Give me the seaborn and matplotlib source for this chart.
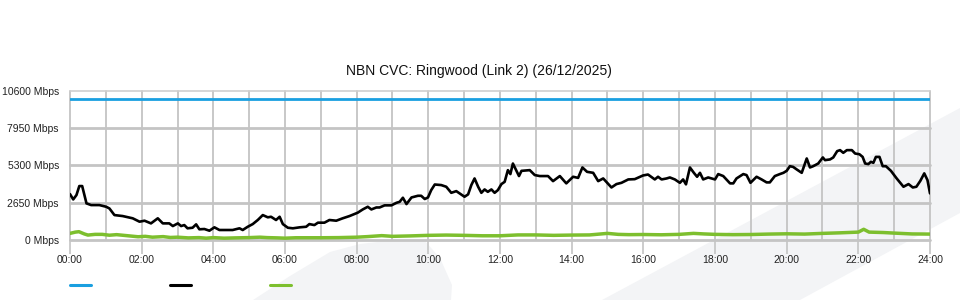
import matplotlib
matplotlib.use("Agg")
import matplotlib.pyplot as plt
import seaborn as sns
import pandas as pd
from matplotlib.patches import Polygon
from matplotlib.lines import Line2D

# ---------------- data ----------------
title = "NBN CVC: Ringwood (Link 2) (26/12/2025)"

used_hours = [0.00, 0.09, 0.18, 0.26, 0.34, 0.46, 0.59, 0.82, 1.01, 1.10, 1.24, 1.47, 1.75, 1.94,
              2.08, 2.26, 2.45, 2.59, 2.77, 2.87, 3.01, 3.10, 3.19, 3.28, 3.42, 3.52, 3.61, 3.75,
              3.89, 4.03, 4.17, 4.54, 4.73, 4.82, 4.96, 5.10, 5.24, 5.38, 5.52, 5.61, 5.75, 5.85,
              5.94, 6.08, 6.22, 6.41, 6.59, 6.68, 6.82, 6.92, 7.10, 7.24, 7.43, 7.61, 7.80, 8.03,
              8.17, 8.31, 8.41, 8.55, 8.64, 8.78, 8.97, 9.11, 9.20, 9.29, 9.39, 9.53, 9.71, 9.80,
              9.90, 9.99, 10.08, 10.18, 10.36, 10.50, 10.64, 10.78, 10.87, 11.01, 11.11, 11.20,
              11.29, 11.39, 11.48, 11.57, 11.66, 11.76, 11.85, 11.94, 12.04, 12.13, 12.22, 12.29,
              12.36, 12.46, 12.53, 12.60, 12.83, 12.97, 13.11, 13.34, 13.48, 13.67, 13.85, 14.04,
              14.18, 14.30, 14.43, 14.60, 14.74, 14.88, 15.11, 15.25, 15.39, 15.58, 15.76, 15.99,
              16.13, 16.32, 16.41, 16.51, 16.65, 16.74, 16.88, 17.02, 17.11, 17.19, 17.30, 17.41,
              17.50, 17.58, 17.67, 17.81, 18.00, 18.09, 18.23, 18.42, 18.51, 18.60, 18.79, 18.88,
              18.99, 19.16, 19.30, 19.44, 19.53, 19.67, 19.81, 19.91, 20.00, 20.09, 20.18, 20.28,
              20.42, 20.56, 20.65, 20.74, 20.88, 21.01, 21.07, 21.21, 21.30, 21.41, 21.49, 21.58,
              21.68, 21.82, 21.91, 22.03, 22.12, 22.19, 22.28, 22.35, 22.42, 22.49, 22.59, 22.68,
              22.77, 22.91, 23.07, 23.26, 23.40, 23.52, 23.62, 23.73, 23.84, 23.93, 24.00]
used_mbps = [3260, 2880, 3190, 3830, 3830, 2600, 2480, 2480, 2360, 2240, 1770, 1700, 1540, 1300,
             1370, 1180, 1540, 1180, 1180, 990, 1180, 990, 1060, 830, 870, 1110, 760, 780,
             660, 900, 710, 710, 830, 710, 940, 1130, 1420, 1770, 1610, 1650, 1420, 1650,
             1130, 870, 830, 900, 940, 1130, 1060, 1230, 1230, 1420, 1370, 1540, 1700, 1940,
             2170, 2360, 2170, 2310, 2310, 2460, 2460, 2640, 2710, 3000, 2550, 3020, 3140, 3140,
             2910, 3020, 3540, 3940, 3900, 3780, 3350, 3470, 3310, 3070, 3240, 3900,
             4370, 3780, 3350, 3590, 3420, 3590, 3350, 3540, 3970, 4130, 4960, 4680,
             5430, 4910, 4540, 4910, 4960, 4610, 4540, 4540, 4180, 4540, 4020, 4490,
             4410, 5150, 4840, 4770, 4180, 4370, 3730, 3970, 4060, 4300, 4320, 4580,
             4650, 4300, 4490, 4300, 4370, 4440, 4300, 4060, 4300, 3950, 5150, 4770,
             4490, 4770, 4300, 4440, 4300, 4680, 4540, 4020, 4020, 4370, 4680, 4610,
             4060, 4490, 4300, 4090, 4090, 4540, 4680, 4770, 4910, 5240, 5190, 5010,
             4770, 5790, 5150, 5240, 5430, 5860, 5670, 5720, 5860, 6310, 6380, 6190,
             6380, 6380, 6140, 6090, 5900, 5430, 5390, 5550, 5480, 5900, 5900, 5240,
             5240, 4910, 4370, 3780, 3970, 3730, 3780, 4200, 4730, 4250, 3310]

up_hours = [0.0, 0.15, 0.25, 0.4, 0.5, 0.7, 0.9, 1.1, 1.3, 1.5, 1.7, 1.9, 2.1, 2.3, 2.6, 2.8,
            3.0, 3.3, 3.6, 3.8, 4.0, 4.3, 4.6, 5.0, 5.3, 5.5, 5.8, 6.0, 6.3, 6.6, 7.0, 7.5,
            8.0, 8.3, 8.7, 9.0, 9.5, 10.0, 10.5, 11.0, 11.5, 12.0, 12.5, 13.0, 13.5, 14.0,
            14.5, 15.0, 15.3, 15.6, 16.0, 16.5, 17.0, 17.4, 17.7, 18.0, 18.5, 19.0, 19.5,
            20.0, 20.5, 21.0, 21.5, 22.0, 22.15, 22.3, 22.7, 23.0, 23.5, 24.0]
up_mbps = [470, 560, 590, 430, 350, 400, 400, 340, 380, 330, 280, 230, 260, 200, 240, 180,
           200, 150, 170, 130, 170, 130, 150, 170, 200, 170, 150, 130, 160, 160, 160, 170,
           200, 240, 310, 260, 290, 330, 350, 330, 300, 300, 360, 360, 330, 350,
           360, 470, 400, 380, 390, 370, 400, 470, 430, 400, 380, 390, 420,
           440, 420, 470, 510, 560, 760, 560, 530, 490, 430, 420]

capacity_hours = [0, 24]
capacity_mbps = [10000, 10000]

y_ticks = [0, 2650, 5300, 7950, 10600]
y_tick_labels = ["0 Mbps", "2650 Mbps", "5300 Mbps", "7950 Mbps", "10600 Mbps"]
x_ticks = list(range(0, 25, 2))
x_tick_labels = ["00:00", "02:00", "04:00", "06:00", "08:00", "10:00", "12:00",
                 "14:00", "16:00", "18:00", "20:00", "22:00", "24:00"]

# ---------------- style ----------------
sns.set_theme(style="white")
plt.rcParams['font.family'] = ['Liberation Sans', 'DejaVu Sans']

BLUE = "#1a9fe0"
BLACK = "#000000"
GREEN = "#7dbf2e"
GRID = "#c4c4c4"
WM = "#f3f4f6"

W, H = 960, 300
fig = plt.figure(figsize=(9.6, 3.0), dpi=100)
fig.patch.set_facecolor("white")

def fp(pts):
    return [(x / W, 1 - y / H) for x, y in pts]

# watermark shapes (background)
band = Polygon(fp([(602, 300), (960, 108), (960, 213), (800, 300)]),
               closed=True, transform=fig.transFigure, facecolor=WM, edgecolor="none", zorder=-5)
leaf = Polygon(fp([(253, 300), (290, 276), (330, 252), (360, 244), (395, 240), (425, 241),
                   (440, 258), (452, 285), (451, 300)]),
               closed=True, transform=fig.transFigure, facecolor=WM, edgecolor="none", zorder=-5)
fig.patches.extend([band, leaf])

ax = fig.add_axes([70 / W, 1 - 240 / H, 860 / W, (240 - 90.7) / H])
ax.set_facecolor("none")

df_used = pd.DataFrame({"hour": used_hours, "mbps": used_mbps})
df_up = pd.DataFrame({"hour": up_hours, "mbps": up_mbps})
df_cap = pd.DataFrame({"hour": capacity_hours, "mbps": capacity_mbps})

sns.lineplot(data=df_cap, x="hour", y="mbps", ax=ax, color=BLUE, lw=2.0, zorder=4)
sns.lineplot(data=df_up, x="hour", y="mbps", ax=ax, color=GREEN, lw=2.5, zorder=3)
sns.lineplot(data=df_used, x="hour", y="mbps", ax=ax, color=BLACK, lw=1.9, zorder=5)

ax.set_xlim(0, 24)
ax.set_ylim(0, 10600)
ax.set_xlabel("")
ax.set_ylabel("")

ax.set_xticks(x_ticks)
ax.set_xticklabels(x_tick_labels)
ax.set_xticks(list(range(25)), minor=True)
ax.set_yticks(y_ticks)
ax.set_yticklabels(y_tick_labels)

for s in ax.spines.values():
    s.set_visible(False)

ax.grid(False)
for h in range(25):
    ax.axvline(h, color=GRID, lw=1.3, zorder=1, clip_on=False)
for i, v in enumerate(y_ticks):
    ax.axhline(v, color=GRID if i < 4 else "#cfcfcf", lw=2.0 if i < 4 else 1.2, zorder=1, clip_on=False)

ax.tick_params(axis="x", which="major", length=10, width=1.2, color=GRID, direction="out",
               pad=1, labelsize=7.5, labelcolor="#222222", bottom=True)
ax.tick_params(axis="x", which="minor", length=0)
ax.tick_params(axis="y", length=0, pad=8, labelsize=7.5, labelcolor="#222222", left=True)

fig.text(479 / W, 1 - 71 / H, title, ha="center", va="center", fontsize=10, color="#111111")

# legend swatches (no labels in the reference)
for x0, c in [(70, BLUE), (170, BLACK), (270, GREEN)]:
    fig.add_artist(Line2D([x0 / W, (x0 + 21) / W], [1 - 285 / H, 1 - 285 / H],
                          transform=fig.transFigure, color=c, lw=2.2))

fig.savefig("out.png", dpi=100, facecolor="white")
